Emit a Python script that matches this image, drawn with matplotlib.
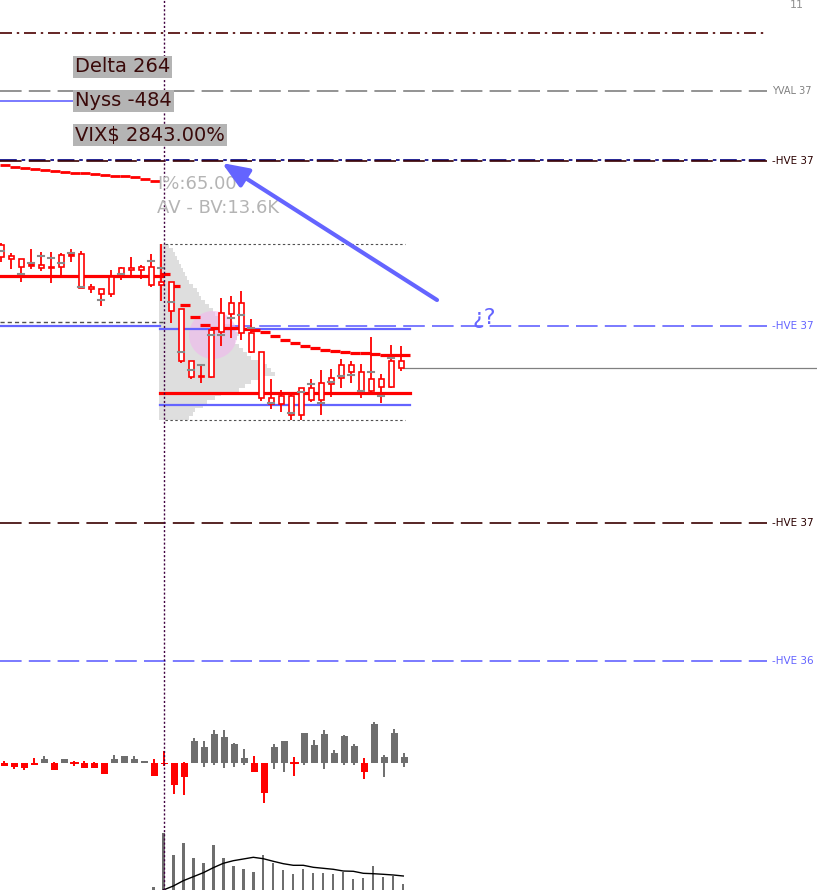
import numpy as np
import matplotlib
matplotlib.use('Agg')
from matplotlib import pyplot as plt
from matplotlib.patches import Circle

PT = 0.72  # px -> pt at dpi 100

# price candles (screen price units, y grows downward): body top, body bottom, high, low
body_top = [245, 256, 259, 264, 265, 267, 255, 253, 254, 287, 289, 277, 268, 268, 267, 267,
            282, 282, 309, 361, 376, 330, 313, 303, 303, 333, 352, 398, 396, 396, 388, 388,
            383, 378, 365, 365, 372, 379, 379, 361, 361]
body_bot = [257, 259, 267, 266, 268, 267.8, 267, 256, 288, 289, 294, 294, 275, 270, 270, 285,
            285, 311, 361, 377, 376.8, 377, 332, 314, 333, 352, 398, 404, 404, 415, 415, 400,
            400, 384, 378, 372, 391, 391, 387, 387, 368]
wick_hi = [243, 253, 259, 249, 252, 252, 253, 249, 251, 284, 289, 270, 267, 257, 265, 254,
           244, 282, 309, 361, 365, 330, 298, 296, 291, 319, 352, 379, 390, 393, 388, 379,
           370, 369, 359, 361, 364, 337, 374, 345, 346]
wick_lo = [262, 269, 282, 269, 271, 283, 278, 262, 288, 293, 306, 297, 280, 275, 279, 287,
           301, 323, 363, 379, 383, 378, 346, 338, 340, 353, 401, 409, 412, 420, 420, 402,
           415, 397, 388, 383, 398, 393, 403, 388, 371]
filled = [3, 7]
poc_tick = [251, None, 274, 263, 256, 258, 263, 253, 287, None, 300, None, 274, None, None, 261,
            268, 302, 352, 370, 365, 335, 335, 318, 315, 328, None, 403, None, 413, 392, 384,
            403, 382, 376, 375, 391, 372, 396, 358, None]
vwap = [165.3, 166.7, 168, 169.3, 170, 171, 172, 172.7, 173.3, 174, 175, 176, 176, 177.3, 178.7, 180.7,
        274, 286, 305, 317, 325, 328, 328, 328, 329, 330, 332, 336, 340, 343, 346, 348,
        350, 351, 352, 353, 353, 354, 355, 355, 355]

# volume profile of the session
prof_y = list(range(246, 420, 4))
prof_w = [10, 14, 16, 18, 20, 22, 24, 26, 28, 30, 34, 38, 40, 42, 46, 50, 54, 56, 60, 66, 72, 76,
          80, 78, 76, 80, 84, 88, 92, 100, 108, 112, 116, 100, 92, 86, 80, 62, 56, 48, 44, 36, 34, 30]

# delta per bar (close, high, low)
d_close = [-2.3, -3.3, -4.3, -1.3, 4.3, -6.7, 4.3, 0, -4.3, -4.3, -10.3, 4.3, 7.3, 4.3, 2.3, -12.3,
           -0.8, -21.3, -13.3, 22.6, 16.3, 29.6, 26.6, 19.3, 5.3, -8.3, -29.3, 16.3, 22.3, 0, 30.6,
           18.3, 29.6, 10.3, 27.6, 17.3, -8.3, 39.6, 6.3, 30.6, 6.3]
d_high = [2.3, 0, 0, 5.3, 7.3, 1.3, 4.3, 2.3, 2.3, 1.3, 0, 8.3, 7.3, 7.3, 2.3, 4.3,
          12, 0, 1.3, 25.6, 22.3, 33.3, 33.3, 20.3, 14.3, 7.3, 0, 19.3, 22.3, 6.3, 30.6,
          23.3, 33.3, 13.3, 28.3, 19.3, 5.3, 41.3, 8.3, 34.3, 10.3]
d_low = [-2.3, -5.3, -6.7, -1.3, 0, -6.7, 0, -2.3, -4.3, -4.3, -10.3, 0, 0, 0, 0, -12.3,
         -2.3, -30.3, -31.3, 0, -3.3, -1.3, -4.3, -3.3, -1.3, -8.3, -39.3, -5.3, -8.3, -12.3, -1.3,
         0, -5.3, 0, -1.3, -1.3, -15.3, 0, -13.3, 0, -3.3]

# volume (from bar 15) and its average (from bar 16)
volume = [3.3, 57.3, 35.3, 47.3, 32.3, 27.3, 45.3, 32.3, 24.3, 21.3, 18.3, 35.3, 27.3, 20.3,
          16.3, 21.3, 17.3, 17.3, 16.3, 18.3, 11.3, 12.3, 24.3, 13.3, 14.3, 6.3]
vol_avg = [0, 4, 9.3, 13.3, 17.3, 22.3, 26.7, 29.3, 31, 32.7, 31.3, 28.7, 26.3, 24.7, 24.7,
           22.7, 21.7, 20.7, 19, 18.7, 16.7, 16.3, 15.7, 15, 14]

# horizontal levels: y, color, dash(px), label, label color
levels = [
    (33, '#4a0000', (10, 4, 2, 4), None, None),
    (91, '#808080', (18, 6), 'YVAL 37', '#808080'),
    (159.5, '#000080', (14, 4, 3, 3), None, None),
    (161.3, '#3a0000', (18, 6), '-HVE 37', '#2a0000'),
    (326.3, '#6464ff', (18, 6), '-HVE 37', '#6464ff'),
    (523, '#3a0000', (18, 6), '-HVE 37', '#2a0000'),
    (661, '#6464ff', (18, 6), '-HVE 36', '#6464ff'),
]
info_labels = ['Delta 264', 'Nyss -484', 'VIX$ 2843.00%']

fig = plt.figure(figsize=(8.17, 8.90), dpi=100)
ax = fig.add_axes([0, 0, 1, 1])
ax.set_xlim(0, 817)
ax.set_ylim(890, 0)
ax.axis('off')

n = len(body_top)
xs = np.arange(n) * 10 + 1.3

for y, col, dash, lab, lcol in levels:
    ax.plot([0, 767], [y, y], color=col, lw=1.2,
            linestyle=(0, tuple(d * PT for d in dash)), zorder=1)
    if lab:
        ax.text(772, y, lab, color=lcol, fontsize=7.5 if lab.startswith('-') else 7,
                va='center', ha='left', zorder=5)
ax.text(790, 0, '11', color='#909090', fontsize=8, va='top', ha='left')

# session volume profile
ax.barh(prof_y, prof_w, height=3.2, left=159, color='#dedede', zorder=1)
ax.add_patch(Circle((213, 335), 24, facecolor='#f2b6ee', edgecolor='none', alpha=0.6, zorder=2))

# value area box + lines
for y in [244, 420]:
    ax.plot([165, 405], [y, y], color='#505050', lw=0.8, linestyle=(0, (2.2, 2.2)), zorder=2)
ax.plot([0, 165], [322.3, 322.3], color='#505050', lw=1, linestyle=(0, (3, 2.2)), zorder=2)
ax.plot([0, 160], [325.8, 325.8], color='#6464ff', lw=1.6, zorder=2)
ax.plot([160, 410], [329.3, 329.3], color='#6464ff', lw=1.6, zorder=2)
ax.plot([160, 410], [405, 405], color='#6464ff', lw=1.6, zorder=2)
ax.plot([0, 162], [276, 276], color='#ff0000', lw=2.3, zorder=2)
ax.plot([160, 410], [393, 393], color='#ff0000', lw=2.3, zorder=2)
ax.plot([0, 75], [101, 101], color='#6464ff', lw=1.2, zorder=2)
ax.plot([403, 817], [368, 368], color='#808080', lw=0.9, zorder=2)

# vwap steps
for k, v in enumerate(vwap):
    ax.plot([10 * k, 10 * k + 10], [v, v], color='#ff0000', lw=2.0 if k < 16 else 2.3,
            solid_capstyle='butt', zorder=3)

# candles
ax.vlines(xs, wick_hi, wick_lo, color='#ff0000', lw=1.3, zorder=4)
for k in range(n):
    h = max(body_bot[k] - body_top[k], 0.8)
    ax.bar(xs[k], h, bottom=body_top[k], width=4.6,
           facecolor='#ff0000' if k in filled else 'white', edgecolor='#ff0000', lw=1.2, zorder=5)
    if poc_tick[k] is not None:
        ax.plot([xs[k] - 3, xs[k] + 3], [poc_tick[k]] * 2, color='#8a8a8a', lw=1.5, zorder=6)

# delta panel
base = 763.3
dx = np.arange(n) * 10 + 4.3
for k in range(n):
    col = '#ff0000' if d_close[k] <= 0 else '#6e6e6e'
    ax.vlines(dx[k], base - d_high[k], base - d_low[k], color=col, lw=1.4, zorder=4)
    if abs(d_close[k]) < 0.5:
        ax.plot([dx[k] - 3.3, dx[k] + 3.3], [base, base], color=col, lw=1.4, zorder=5)
    else:
        ax.bar(dx[k], -d_close[k], bottom=base, width=6.7, color=col, zorder=5)

# volume panel
vx = np.arange(15, n) * 10 + 3.3
ax.bar(vx, [-v for v in volume], bottom=890, width=2.4, color='#6e6e6e', zorder=4)
ax.plot(vx[1:], [890 - v for v in vol_avg], color='black', lw=1.0, zorder=5)

# session start line
ax.axvline(164.3, color='#400040', lw=1.0, linestyle=(0, (1.5, 1.5)), zorder=6)

# info labels
for i, lab in enumerate(info_labels):
    ax.text(75, 67 + 34 * i, lab, color='#3a0a0a', fontsize=14, va='center', ha='left',
            bbox=dict(boxstyle='square,pad=0.1', facecolor='#b4b4b4', edgecolor='none'), zorder=7)
ax.text(157, 184, 'I%:65.00', color='#b4b4b4', fontsize=13, va='center', ha='left', zorder=7)
ax.text(157, 208, 'AV - BV:13.6K', color='#b4b4b4', fontsize=13, va='center', ha='left', zorder=7)

ax.annotate('', xy=(222, 163), xytext=(437, 300),
            arrowprops=dict(arrowstyle='-|>,head_length=0.8,head_width=0.32', lw=3.0,
                            color='#6464ff', mutation_scale=20, shrinkA=0, shrinkB=0), zorder=7)
ax.text(473, 318, '¿?', color='#6464ff', fontsize=16, va='center', ha='left', zorder=7)

fig.savefig('out.png', dpi=100)
